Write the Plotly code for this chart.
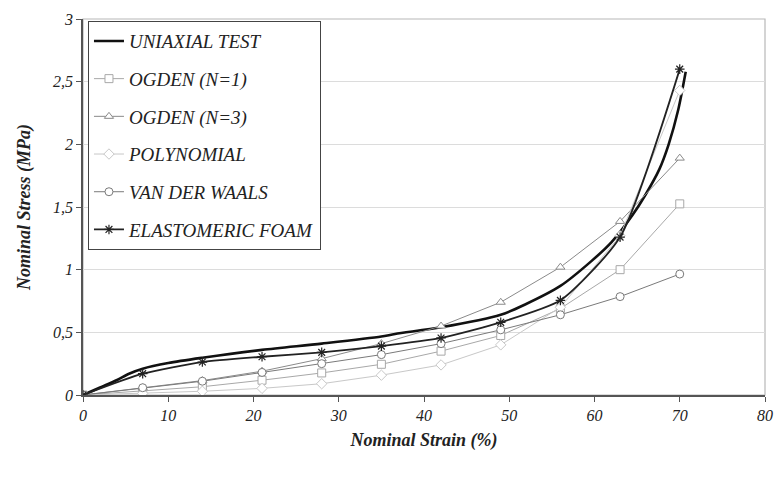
import plotly.graph_objects as go

# ---------------- data ----------------
strain_pts = [0, 7, 14, 21, 28, 35, 42, 49, 56, 63, 70]

test_strain = [0, 2, 4, 5.4, 7, 10, 14, 21, 28, 35, 36.6, 42, 49, 51.8, 56, 59.6, 62, 64.4, 66, 67.6, 68.7, 69.8, 70.7]
test_stress = [0, 0.06, 0.12, 0.17, 0.21, 0.255, 0.297, 0.36, 0.41, 0.466, 0.487, 0.54, 0.64, 0.72, 0.87, 1.066, 1.22, 1.43, 1.60, 1.80, 2.00, 2.27, 2.58]

ogden1 = [0, 0.03, 0.066, 0.118, 0.176, 0.245, 0.35, 0.475, 0.69, 1.0, 1.525]
ogden3 = [0, 0.058, 0.115, 0.19, 0.29, 0.41, 0.55, 0.74, 1.02, 1.385, 1.89]
polynomial = [0, 0.013, 0.03, 0.053, 0.09, 0.158, 0.24, 0.40, 0.70, 1.27, 2.43]
vanderwaals = [0, 0.058, 0.11, 0.18, 0.25, 0.322, 0.41, 0.52, 0.64, 0.785, 0.965]
foam = [0, 0.17, 0.263, 0.305, 0.34, 0.39, 0.455, 0.58, 0.755, 1.26, 2.6]

x_ticks = [0, 10, 20, 30, 40, 50, 60, 70, 80]
y_ticks = [0, 0.5, 1, 1.5, 2, 2.5, 3]
y_ticktext = ["0", "0,5", "1", "1,5", "2", "2,5", "3"]

names = ["UNIAXIAL TEST", "OGDEN (N=1)", "OGDEN (N=3)", "POLYNOMIAL", "VAN DER WAALS", "ELASTOMERIC FOAM"]

FONT = '"Liberation Serif", "Times New Roman", Times, serif'

fig = go.Figure()

fig.add_trace(go.Scatter(x=test_strain, y=test_stress, mode="lines", name=names[0],
                         line=dict(color="#111111", width=2.6, shape="spline", smoothing=0.8),
                         legendgroup="a"))

def model(y, name, color, symbol, grp, lw=1.0):
    fig.add_trace(go.Scatter(x=strain_pts, y=y, mode="lines+markers", name=name,
                             line=dict(color=color, width=lw),
                             marker=dict(symbol=symbol, size=8, color="white",
                                         line=dict(color=color, width=1)),
                             legendgroup=grp))

model(ogden1, names[1], "#a8a8a8", "square", "b")
model(ogden3, names[2], "#8a8a8a", "triangle-up", "c")
model(polynomial, names[3], "#c8c8c8", "diamond", "d")
model(vanderwaals, names[4], "#7a7a7a", "circle", "e")

fig.add_trace(go.Scatter(x=strain_pts, y=foam, mode="lines+markers", name=names[5],
                         line=dict(color="#222222", width=1.8, shape="spline", smoothing=0.6),
                         marker=dict(symbol="asterisk-open", size=8,
                                     line=dict(color="#222222", width=1.2)),
                         legendgroup="f"))

fig.update_layout(
    width=784, height=477,
    margin=dict(l=83, r=11, t=15, b=82),
    paper_bgcolor="white", plot_bgcolor="white",
    font=dict(family=FONT, color="#222222"),
    showlegend=True,
    legend=dict(x=0.007, y=0.995, xanchor="left", yanchor="top",
                bgcolor="white", bordercolor="#444444", borderwidth=1.2,
                font=dict(family=FONT, size=19, style="italic", color="#222222"),
                tracegroupgap=10, itemwidth=30),
    shapes=[dict(type="rect", xref="paper", yref="paper", x0=0, y0=0, x1=1, y1=1,
                 line=dict(color="#b8b8b8", width=1.2), layer="below")],
)

fig.update_xaxes(range=[0, 80], tickvals=x_ticks, ticks="outside", ticklen=5,
                 tickcolor="#555555", showline=True, linecolor="#555555", linewidth=1.5,
                 showgrid=False, zeroline=False,
                 tickfont=dict(family=FONT, size=16, style="italic", color="#222222"),
                 title=dict(text="Nominal Strain (%)", standoff=10,
                            font=dict(family=FONT, size=18, style="italic", weight="bold", color="#222222")))

fig.update_yaxes(range=[0, 3], tickvals=y_ticks, ticktext=y_ticktext, ticks="outside", ticklen=5,
                 tickcolor="#555555", showline=True, linecolor="#555555", linewidth=1.5,
                 showgrid=True, gridcolor="#dcdcdc", gridwidth=1, zeroline=False,
                 tickfont=dict(family=FONT, size=16, style="italic", color="#222222"),
                 title=dict(text="Nominal Stress (MPa)", standoff=18,
                            font=dict(family=FONT, size=18, style="italic", weight="bold", color="#222222")))

fig.write_html("out.html")
